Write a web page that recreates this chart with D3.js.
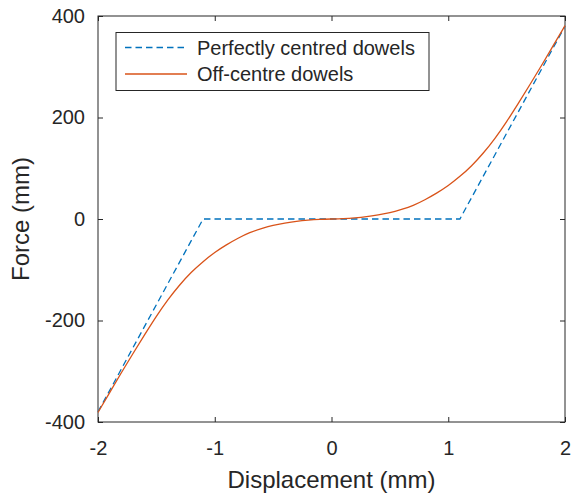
<!DOCTYPE html>
<html>
<head>
<meta charset="utf-8">
<script src="https://cdn.jsdelivr.net/npm/d3@7"></script>
<style>
  body { margin: 0; background: #fff; }
  svg { display: block; }
  text { font-family: "Liberation Sans", Helvetica, Arial, sans-serif; fill: #262626; }
</style>
</head>
<body>
<svg width="571" height="495"></svg>
<script>
// data
const rigidX = [-2, -1.1, 1.1, 2];
const rigidF = [-380, 0, 0, 380];

const offX = [-2, -1.9, -1.8, -1.7, -1.6, -1.5, -1.4, -1.3, -1.2, -1.1, -1.0,
              -0.9, -0.8, -0.7, -0.6, -0.5, -0.4, -0.3, -0.2, -0.1, 0,
              0.1, 0.2, 0.3, 0.4, 0.5, 0.6, 0.7, 0.8, 0.9, 1.0,
              1.1, 1.2, 1.3, 1.4, 1.5, 1.6, 1.7, 1.8, 1.9, 2];
const offF = [-381, -342, -303, -265, -228, -192, -159, -130, -105, -84, -66,
              -51, -38, -27, -19, -12.5, -8, -4.5, -2.2, -0.8, 0,
              0.8, 2.2, 4.5, 8, 12.5, 19, 27, 38, 51, 66,
              84, 105, 130, 159, 192, 228, 265, 303, 342, 381];

const xTicks = [-2, -1, 0, 1, 2];
const yTicks = [-400, -200, 0, 200, 400];

const seriesNames = ["Perfectly centred dowels", "Off-centre dowels"];
const seriesColors = ["#0072BD", "#D95319"];

const box = {left: 98, right: 565, top: 16, bottom: 422};

const svg = d3.select("svg");

const x = d3.scaleLinear().domain([-2, 2]).range([box.left, box.right]);
const y = d3.scaleLinear().domain([-400, 400]).range([box.bottom, box.top]);

const plain = d => String(d);  // matlab style: hyphen minus, no decimals

// axes, ticks pointing inward like matlab
function styleAxis(g){
    g.select(".domain").remove();
    g.selectAll(".tick line").attr("stroke", "#262626");
    g.selectAll(".tick text").attr("font-size", 20).attr("fill", "#262626");
}

svg.append("g")
    .attr("transform", `translate(0,${box.bottom})`)
    .call(d3.axisBottom(x).tickValues(xTicks).tickFormat(plain).tickSizeInner(-5).tickSizeOuter(0).tickPadding(19))
    .call(styleAxis);
svg.append("g")
    .attr("transform", `translate(0,${box.top})`)
    .call(d3.axisTop(x).tickValues(xTicks).tickSizeInner(-5).tickSizeOuter(0).tickFormat(""))
    .call(styleAxis);
svg.append("g")
    .attr("transform", `translate(${box.left},0)`)
    .call(d3.axisLeft(y).tickValues(yTicks).tickFormat(plain).tickSizeInner(-5).tickSizeOuter(0).tickPadding(13))
    .call(styleAxis);
svg.append("g")
    .attr("transform", `translate(${box.right},0)`)
    .call(d3.axisRight(y).tickValues(yTicks).tickSizeInner(-5).tickSizeOuter(0).tickFormat(""))
    .call(styleAxis);

svg.append("rect")
    .attr("x", box.left)
    .attr("y", box.top)
    .attr("width", box.right - box.left)
    .attr("height", box.bottom - box.top)
    .attr("fill", "none")
    .attr("stroke", "#262626")
    .attr("stroke-width", 1);

// curves
const line = d3.line().x(d => x(d[0])).y(d => y(d[1]));

svg.append("path")
    .datum(rigidX.map((v, i) => [v, rigidF[i]]))
    .attr("d", line)
    .attr("fill", "none")
    .attr("stroke", seriesColors[0])
    .attr("stroke-width", 1.3)
    .attr("stroke-dasharray", "6.5,4");

svg.append("path")
    .datum(offX.map((v, i) => [v, offF[i]]))
    .attr("d", line.curve(d3.curveNatural))
    .attr("fill", "none")
    .attr("stroke", seriesColors[1])
    .attr("stroke-width", 1.3);

// axis labels
svg.append("text")
    .text("Displacement (mm)")
    .attr("x", (box.left + box.right) / 2)
    .attr("y", 488)
    .attr("text-anchor", "middle")
    .attr("font-size", 24);

svg.append("text")
    .text("Force (mm)")
    .attr("transform", `translate(28.5,${(box.top + box.bottom) / 2}) rotate(-90)`)
    .attr("text-anchor", "middle")
    .attr("font-size", 24);

// legend
const legend = svg.append("g");
legend.append("rect")
    .attr("x", 116)
    .attr("y", 32.5)
    .attr("width", 313)
    .attr("height", 58)
    .attr("fill", "#fff")
    .attr("stroke", "#262626")
    .attr("stroke-width", 1);

seriesNames.forEach((name, i) => {
    const ly = 47.5 + i * 26.5;
    legend.append("line")
        .attr("x1", 125).attr("x2", 187)
        .attr("y1", ly).attr("y2", ly)
        .attr("stroke", seriesColors[i])
        .attr("stroke-width", 1.3)
        .attr("stroke-dasharray", i == 0 ? "6.5,4" : null);
    legend.append("text")
        .text(name)
        .attr("x", 197)
        .attr("y", ly + 7)
        .attr("font-size", 20);
});
</script>
</body>
</html>
